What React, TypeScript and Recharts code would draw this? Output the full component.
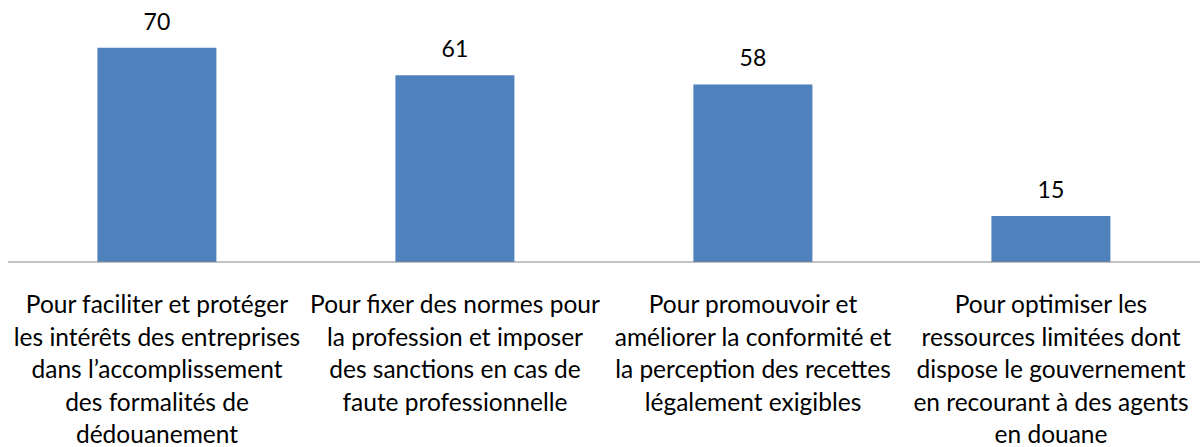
import { BarChart, Bar, XAxis, YAxis, LabelList } from "recharts";

const categories = [
  ["Pour faciliter et protéger", "les intérêts des entreprises", "dans l’accomplissement", "des formalités de", "dédouanement"],
  ["Pour fixer des normes pour", "la profession et imposer", "des sanctions en cas de", "faute professionnelle"],
  ["Pour promouvoir et", "améliorer la conformité et", "la perception des recettes", "légalement exigibles"],
  ["Pour optimiser les", "ressources limitées dont", "dispose le gouvernement", "en recourant à des agents", "en douane"],
];
const values = [70, 61, 58, 15];

const data = categories.map((lines, i) => ({ name: lines.join(" "), lines, value: values[i] }));

const FONT = "Lato, 'Open Sans', sans-serif";

const MultiLineTick = (props: any) => {
  const { x, y, payload } = props;
  const lines: string[] = categories[payload.index] || [];
  return (
    <text x={x} y={y} textAnchor="middle" fill="#000" fontSize={24.5} fontFamily={FONT}>
      {lines.map((line, i) => (
        <tspan key={i} x={x} y={y + 43 + i * 32.5}>
          {line}
        </tspan>
      ))}
    </text>
  );
};

const App = () => {
  return (
    <div>
      <style>{"body{margin:0}"}</style>
      <BarChart
        width={1200}
        height={447}
        data={data}
        margin={{ top: 17, right: 0, bottom: 0, left: 8 }}
        barCategoryGap="30%"
      >
        <XAxis
          dataKey="name"
          interval={0}
          height={185}
          tickLine={false}
          axisLine={{ stroke: "#868686", strokeWidth: 1 }}
          tick={<MultiLineTick />}
        />
        <YAxis hide domain={[0, 80]} />
        <Bar dataKey="value" fill="#4F81BD" isAnimationActive={false}>
          <LabelList dataKey="value" position="top" offset={18} fill="#000" fontSize={23} fontFamily={FONT} />
        </Bar>
      </BarChart>
    </div>
  );
};

export default App;
